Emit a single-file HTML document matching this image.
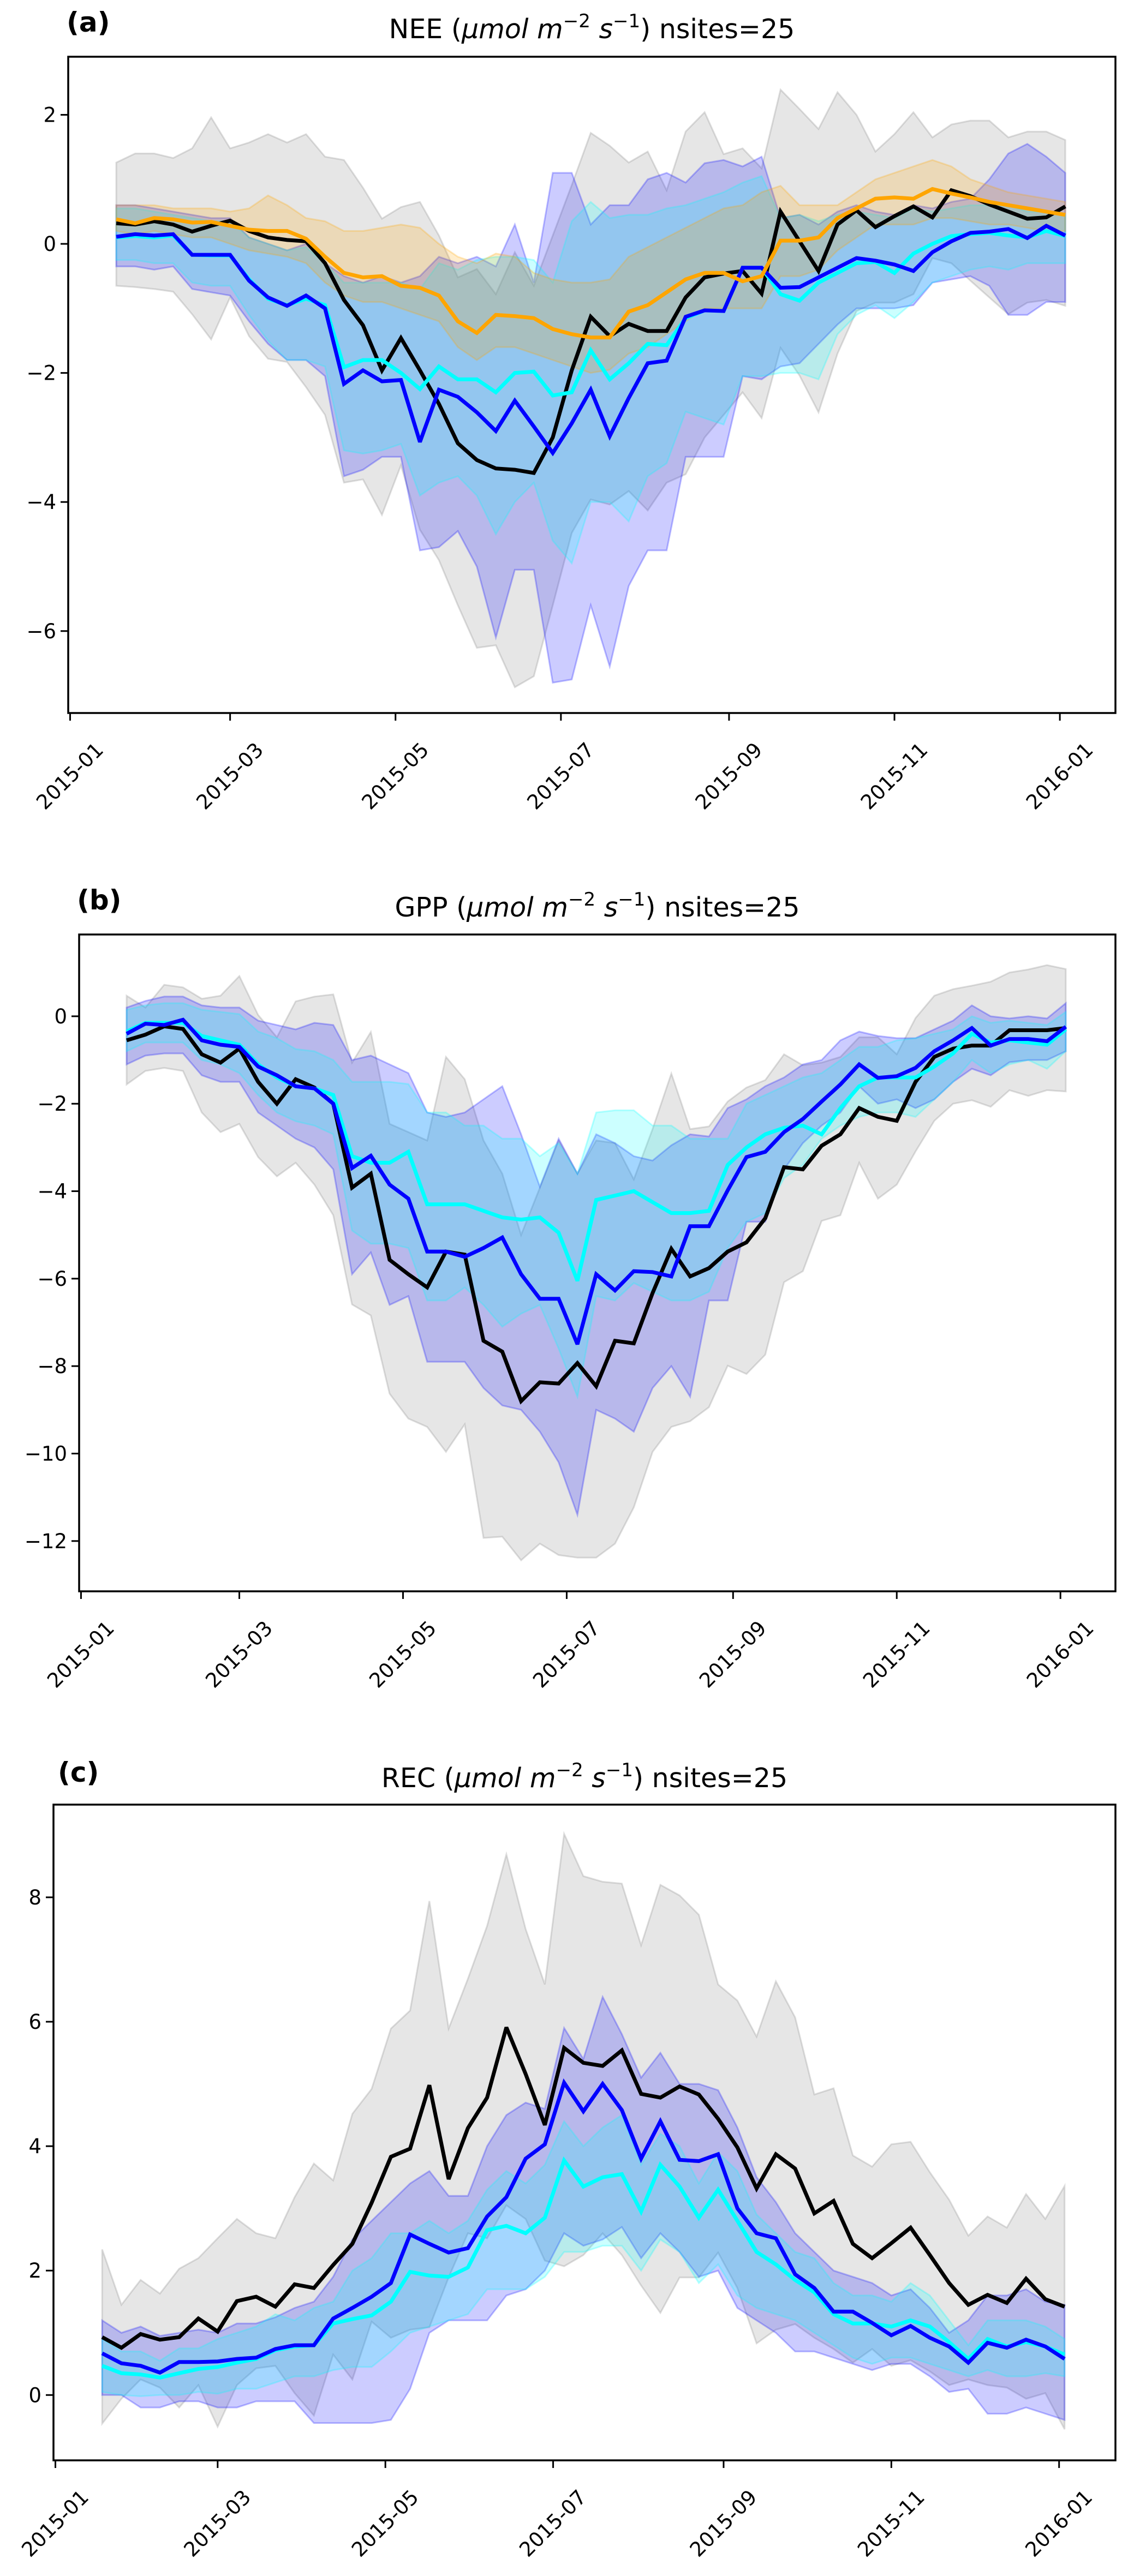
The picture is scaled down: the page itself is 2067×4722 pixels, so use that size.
<!DOCTYPE html>
<html><head><meta charset="utf-8">
<style>
html,body{margin:0;padding:0;background:#fff;}
svg{display:block;}
text{font-family:"DejaVu Sans","Liberation Sans",sans-serif;fill:#000;}
</style></head>
<body>
<svg id="fig" width="2067" height="4722" viewBox="0 0 2067 4722" xmlns="http://www.w3.org/2000/svg"></svg>
<script>
// ---- shared data ----
const xTickLabels = ["2015-01","2015-03","2015-05","2015-07","2015-09","2015-11","2016-01"];
const xTickDays = [0,59,120,181,243,304,365];
const startDay = 17, stepDays = 7;

// ---- panel a: NEE ----
const neeObs = [0.32,0.3,0.35,0.3,0.19,0.28,0.36,0.2,0.1,0.06,0.04,-0.3,-0.87,-1.26,-1.96,-1.46,-1.96,-2.48,-3.09,-3.35,-3.48,-3.5,-3.55,-3.0,-1.96,-1.13,-1.43,-1.24,-1.35,-1.35,-0.83,-0.52,-0.46,-0.42,-0.77,0.5,0.04,-0.42,0.3,0.52,0.26,0.43,0.58,0.41,0.83,0.74,0.61,0.5,0.39,0.41,0.58];
const neeObsLo = [-0.65,-0.67,-0.7,-0.74,-1.09,-1.48,-0.83,-1.43,-1.78,-1.83,-2.22,-2.65,-3.7,-3.65,-4.2,-3.43,-4.43,-4.9,-5.6,-6.26,-6.22,-6.87,-6.7,-5.6,-4.48,-3.96,-4.04,-3.83,-4.13,-3.7,-3.57,-3.0,-2.65,-2.3,-2.7,-1.61,-2.04,-2.61,-1.7,-1.04,-0.91,-0.91,-0.78,-0.22,-0.3,-0.57,-0.83,-1.09,-0.91,-0.87,-0.96];
const neeObsHi = [1.26,1.4,1.4,1.33,1.48,1.96,1.48,1.57,1.7,1.57,1.7,1.35,1.3,0.87,0.39,0.57,0.65,0.13,-0.52,-0.39,-0.78,-0.13,-0.65,0.13,0.91,1.72,1.52,1.26,1.43,0.83,1.74,2.04,1.39,1.48,1.17,2.39,2.09,1.78,2.35,2.0,1.43,1.7,2.04,1.65,1.85,1.91,1.91,1.65,1.74,1.74,1.61];
const neeBlue = [0.11,0.15,0.13,0.15,-0.17,-0.17,-0.17,-0.57,-0.83,-0.96,-0.8,-1.0,-2.17,-1.96,-2.13,-2.11,-3.07,-2.26,-2.37,-2.61,-2.9,-2.43,-2.83,-3.24,-2.78,-2.26,-2.98,-2.39,-1.85,-1.81,-1.13,-1.03,-1.04,-0.37,-0.37,-0.68,-0.67,-0.52,-0.37,-0.22,-0.26,-0.32,-0.42,-0.13,0.04,0.17,0.19,0.23,0.09,0.28,0.13];
const neeBlueLo = [-0.35,-0.35,-0.4,-0.35,-0.7,-0.75,-0.8,-1.2,-1.55,-1.8,-1.8,-2.05,-3.6,-3.5,-3.3,-3.3,-4.75,-4.7,-4.45,-5.0,-6.1,-5.05,-5.05,-6.8,-6.75,-5.6,-6.55,-5.3,-4.75,-4.75,-3.3,-3.3,-3.3,-2.05,-2.1,-1.9,-1.85,-1.55,-1.25,-1.0,-1.0,-1.0,-0.95,-0.6,-0.55,-0.5,-0.65,-1.1,-1.1,-0.9,-0.9];
const neeBlueHi = [0.6,0.6,0.55,0.5,0.45,0.4,0.4,0.1,0.0,-0.1,0.0,-0.3,-0.5,-0.6,-0.5,-0.6,-0.5,-0.2,-0.3,-0.2,-0.35,0.3,-0.6,1.1,1.1,0.3,0.6,0.6,1.0,1.1,0.95,1.25,1.3,1.2,1.35,0.4,0.45,0.3,0.5,0.6,0.5,0.45,0.6,0.55,0.65,0.7,1.0,1.4,1.55,1.35,1.1];
const neeCyan = [0.1,0.12,0.1,0.13,-0.17,-0.18,-0.18,-0.55,-0.85,-0.95,-0.85,-0.95,-1.91,-1.8,-1.8,-2.0,-2.25,-1.9,-2.1,-2.1,-2.3,-2.0,-1.98,-2.35,-2.3,-1.65,-2.1,-1.85,-1.55,-1.57,-1.15,-1.03,-1.04,-0.37,-0.37,-0.78,-0.88,-0.6,-0.45,-0.3,-0.28,-0.45,-0.15,0.0,0.12,0.15,0.17,0.13,0.1,0.2,0.12];
const neeCyanLo = [-0.25,-0.25,-0.3,-0.3,-0.6,-0.65,-0.65,-1.1,-1.5,-1.8,-1.8,-1.9,-3.2,-3.25,-3.2,-3.1,-3.9,-3.7,-3.6,-3.9,-4.5,-4.0,-3.7,-4.6,-4.95,-4.0,-4.0,-4.3,-3.6,-3.4,-2.6,-2.7,-2.8,-2.05,-2.05,-2.0,-2.0,-2.1,-1.4,-1.1,-0.95,-1.15,-0.9,-0.6,-0.5,-0.4,-0.35,-0.4,-0.3,-0.3,-0.3];
const neeCyanHi = [0.55,0.55,0.5,0.45,0.4,0.35,0.35,0.1,0,-0.1,-0.05,-0.3,-0.6,-0.6,-0.6,-0.6,-0.7,-0.3,-0.4,-0.25,-0.2,-0.2,-0.25,-0.6,0.35,0.65,0.4,0.45,0.45,0.55,0.6,0.7,0.8,0.95,1.05,0.4,0.45,0.35,0.45,0.5,0.45,0.4,0.55,0.5,0.55,0.6,0.6,0.6,0.5,0.5,0.45];
const neeOrange = [0.38,0.32,0.4,0.38,0.33,0.34,0.28,0.22,0.2,0.2,0.08,-0.2,-0.45,-0.52,-0.5,-0.65,-0.68,-0.8,-1.2,-1.38,-1.1,-1.12,-1.15,-1.32,-1.4,-1.45,-1.45,-1.05,-0.95,-0.75,-0.55,-0.45,-0.45,-0.58,-0.5,0.05,0.05,0.1,0.4,0.55,0.7,0.72,0.7,0.85,0.78,0.72,0.65,0.6,0.55,0.5,0.45];
const neeOrangeLo = [0.2,0.15,0.2,0.15,0.1,0.1,0.0,-0.1,-0.15,-0.2,-0.3,-0.6,-0.8,-0.9,-0.9,-1.0,-1.1,-1.2,-1.6,-1.8,-1.6,-1.6,-1.7,-1.8,-1.9,-2.0,-1.95,-1.7,-1.6,-1.4,-1.2,-1.0,-1.0,-1.0,-1.0,-0.5,-0.5,-0.4,-0.1,0.1,0.3,0.3,0.3,0.4,0.4,0.35,0.3,0.3,0.25,0.2,0.2];
const neeOrangeHi = [0.6,0.6,0.6,0.55,0.55,0.55,0.5,0.55,0.75,0.6,0.4,0.35,0.2,0.2,0.25,0.3,0.25,0.0,-0.2,-0.3,-0.15,-0.2,-0.45,-0.55,-0.6,-0.6,-0.55,-0.2,-0.05,0.1,0.25,0.4,0.55,0.6,0.8,0.9,0.6,0.6,0.6,0.8,1.0,1.1,1.2,1.3,1.2,1.0,0.9,0.8,0.75,0.7,0.65];
const neeYTicks = [-6,-4,-2,0,2];

// ---- panel b: GPP ----
const gppObs = [-0.55,-0.42,-0.23,-0.29,-0.87,-1.06,-0.74,-1.5,-2.0,-1.44,-1.63,-2.0,-3.92,-3.6,-5.57,-5.9,-6.2,-5.38,-5.45,-7.42,-7.67,-8.8,-8.37,-8.4,-7.93,-8.46,-7.42,-7.48,-6.33,-5.32,-5.95,-5.76,-5.38,-5.17,-4.62,-3.45,-3.5,-2.96,-2.7,-2.1,-2.3,-2.39,-1.5,-0.93,-0.74,-0.67,-0.67,-0.32,-0.32,-0.32,-0.27];
const gppObsLo = [-1.56,-1.25,-1.18,-1.25,-2.2,-2.65,-2.46,-3.22,-3.66,-3.35,-3.85,-4.55,-6.59,-6.84,-8.63,-9.2,-9.39,-9.96,-9.33,-11.93,-11.9,-12.44,-12.06,-12.32,-12.38,-12.38,-12.06,-11.23,-9.96,-9.39,-9.26,-8.94,-7.99,-8.18,-7.74,-6.08,-5.83,-4.68,-4.55,-3.35,-4.17,-3.85,-3.09,-2.39,-2.0,-1.92,-2.07,-1.69,-1.82,-1.69,-1.72];
const gppObsHi = [0.47,0.2,0.72,0.66,0.4,0.47,0.92,0.03,-0.48,0.34,0.45,0.5,-1.06,-0.36,-2.46,-2.65,-2.84,-0.93,-1.44,-2.84,-3.6,-5.0,-3.92,-2.84,-3.6,-2.84,-2.9,-3.73,-2.58,-1.31,-2.58,-2.52,-1.95,-1.63,-1.46,-0.87,-1.12,-1.06,-0.93,-0.48,-0.48,-0.87,-0.04,0.47,0.62,0.7,0.79,1.0,1.07,1.17,1.08];
const gppBlue = [-0.4,-0.17,-0.2,-0.08,-0.55,-0.65,-0.7,-1.15,-1.35,-1.6,-1.65,-2.0,-3.47,-3.19,-3.85,-4.17,-5.38,-5.38,-5.5,-5.3,-5.06,-5.9,-6.46,-6.46,-7.5,-5.9,-6.27,-5.83,-5.85,-5.95,-4.8,-4.8,-3.98,-3.22,-3.1,-2.65,-2.35,-1.95,-1.56,-1.1,-1.41,-1.37,-1.18,-0.8,-0.55,-0.27,-0.67,-0.52,-0.52,-0.57,-0.24];
const gppBlueLo = [-1.1,-0.9,-0.85,-0.85,-1.35,-1.5,-1.5,-2.2,-2.5,-2.8,-3.0,-3.5,-5.9,-5.4,-6.6,-6.4,-7.9,-7.9,-7.9,-8.5,-8.9,-9.0,-9.5,-10.2,-11.4,-9.0,-9.2,-9.5,-8.5,-8.0,-8.7,-6.5,-6.5,-4.7,-4.7,-3.5,-2.9,-2.5,-2.2,-1.6,-2.0,-1.9,-2.1,-1.9,-1.5,-1.2,-1.35,-1.05,-1.0,-1.0,-0.8];
const gppBlueHi = [0.2,0.35,0.45,0.45,0.25,0.2,0.2,-0.1,-0.2,-0.3,-0.15,-0.2,-1.0,-0.9,-1.1,-1.3,-2.2,-2.3,-2.2,-1.9,-1.6,-2.7,-3.9,-2.8,-3.6,-2.7,-2.9,-3.2,-3.3,-2.95,-2.7,-2.75,-2.1,-1.9,-1.6,-1.4,-1.1,-1.0,-0.55,-0.35,-0.45,-0.5,-0.5,-0.3,-0.1,0.25,0.0,-0.05,0.0,-0.05,0.3];
const gppCyan = [-0.35,-0.15,-0.15,-0.15,-0.45,-0.55,-0.65,-1.1,-1.4,-1.6,-1.65,-1.8,-3.2,-3.35,-3.35,-3.1,-4.3,-4.3,-4.3,-4.45,-4.6,-4.65,-4.6,-4.95,-6.05,-4.2,-4.1,-4.0,-4.25,-4.5,-4.5,-4.45,-3.4,-3.0,-2.7,-2.55,-2.5,-2.7,-2.1,-1.6,-1.4,-1.4,-1.4,-1.15,-0.85,-0.4,-0.6,-0.55,-0.6,-0.65,-0.3];
const gppCyanLo = [-0.8,-0.6,-0.6,-0.6,-1.0,-1.1,-1.3,-1.8,-2.2,-2.4,-2.5,-2.7,-4.9,-5.2,-5.2,-5.3,-6.5,-6.5,-6.2,-6.6,-7.1,-6.8,-6.6,-7.6,-8.7,-6.4,-6.5,-6.1,-6.3,-6.5,-6.5,-6.3,-5.3,-4.7,-4.5,-3.7,-3.4,-2.8,-2.5,-2.3,-2.2,-2.2,-2.3,-1.9,-1.5,-1.0,-1.3,-1.1,-1.0,-1.2,-0.8];
const gppCyanHi = [0.15,0.25,0.3,0.3,0.15,0.1,0.05,-0.35,-0.5,-0.75,-0.8,-1.0,-1.5,-1.5,-1.5,-1.55,-2.2,-2.2,-2.5,-2.5,-2.8,-2.8,-3.2,-2.9,-3.6,-2.2,-2.15,-2.15,-2.5,-2.5,-2.8,-2.8,-2.8,-2.0,-1.8,-1.6,-1.4,-1.3,-1.0,-0.7,-0.7,-0.55,-0.5,-0.4,-0.3,0.0,-0.15,-0.1,-0.15,-0.2,0.1];
const gppYTicks = [-12,-10,-8,-6,-4,-2,0];

// ---- panel c: REC ----
const recObs = [0.93,0.76,0.98,0.89,0.93,1.23,1.02,1.51,1.58,1.42,1.78,1.72,2.09,2.43,3.09,3.83,3.96,4.98,3.47,4.29,4.78,5.91,5.16,4.34,5.58,5.34,5.29,5.54,4.84,4.78,4.96,4.83,4.44,3.98,3.32,3.87,3.64,2.92,3.12,2.43,2.2,2.44,2.69,2.25,1.8,1.45,1.61,1.48,1.87,1.54,1.42];
const recObsLo = [-0.46,-0.06,0.25,0.12,-0.2,0.16,-0.51,0.16,0.43,0.47,0.03,-0.33,0.65,0.25,1.18,0.92,1.05,1.09,1.89,2.6,2.52,3.05,2.83,2.16,2.07,2.25,2.6,2.25,1.76,1.32,1.89,1.89,2.29,1.72,0.83,1.05,1.14,0.92,0.74,0.52,0.74,0.47,0.56,0.38,0.16,0.25,0.16,0.12,-0.06,0.03,-0.55];
const recObsHi = [2.34,1.45,1.85,1.63,2.03,2.2,2.52,2.83,2.6,2.52,3.18,3.72,3.45,4.52,4.92,5.89,6.18,7.94,5.89,6.69,7.54,8.69,7.49,6.6,9.02,8.34,8.25,8.22,7.23,8.2,8.03,7.72,6.6,6.34,5.76,6.65,6.07,4.83,4.93,3.85,3.67,4.03,4.07,3.58,3.14,2.56,2.87,2.69,3.23,2.83,3.36];
const recBlue = [0.67,0.51,0.47,0.36,0.53,0.53,0.54,0.58,0.6,0.74,0.8,0.8,1.23,1.4,1.58,1.8,2.58,2.43,2.29,2.36,2.87,3.18,3.8,4.03,5.02,4.56,5.0,4.58,3.8,4.4,3.78,3.76,3.87,3.0,2.6,2.52,1.94,1.72,1.34,1.34,1.16,0.96,1.11,0.92,0.78,0.52,0.84,0.76,0.89,0.78,0.58];
const recBlueLo = [0.0,0.0,-0.2,-0.2,-0.1,-0.1,-0.2,-0.2,-0.1,-0.1,-0.1,-0.45,-0.45,-0.45,-0.45,-0.4,0.1,1.0,1.2,1.2,1.2,1.6,1.7,2.0,2.6,2.4,2.5,2.7,2.2,2.6,2.3,1.9,2.0,1.4,1.2,1.0,0.7,0.7,0.6,0.5,0.4,0.5,0.5,0.3,0.05,0.1,-0.3,-0.3,-0.2,-0.3,-0.4];
const recBlueHi = [1.2,1.0,1.1,0.95,1.0,1.05,1.0,1.15,1.15,1.25,1.4,1.5,1.9,2.5,2.8,3.1,3.4,3.6,3.2,3.2,4.0,4.5,4.7,4.6,5.9,5.4,6.4,5.8,5.1,5.5,5.0,5.0,4.9,4.3,3.5,3.1,2.6,2.3,2.0,1.9,1.8,1.6,1.7,1.4,1.0,1.2,1.6,1.6,1.7,1.5,1.45];
const recCyan = [0.47,0.35,0.33,0.28,0.35,0.42,0.45,0.52,0.58,0.72,0.78,0.8,1.15,1.22,1.28,1.5,1.98,1.92,1.9,2.05,2.65,2.72,2.6,2.85,3.77,3.35,3.5,3.55,2.95,3.7,3.35,2.85,3.3,2.8,2.3,2.1,1.85,1.65,1.3,1.15,1.15,1.1,1.2,1.1,0.85,0.58,0.9,0.78,0.85,0.78,0.65];
const recCyanLo = [0.05,0.0,-0.02,0.0,0.0,0.05,0.02,0.1,0.1,0.2,0.3,0.3,0.4,0.45,0.45,0.7,1.0,1.1,1.2,1.3,1.7,1.7,1.7,1.9,2.3,2.3,2.4,2.4,2.0,2.5,2.3,1.8,2.1,1.6,1.4,1.3,1.2,1.0,0.8,0.6,0.5,0.6,0.6,0.5,0.4,0.3,0.4,0.3,0.3,0.35,0.3];
const recCyanHi = [0.9,0.7,0.7,0.55,0.75,0.75,0.9,1.0,1.1,1.3,1.2,1.4,1.5,2.0,2.2,2.6,2.6,2.8,2.6,2.8,3.3,3.6,3.4,3.7,4.4,4.0,4.3,4.5,3.7,4.2,4.0,3.4,3.9,3.6,2.9,2.6,2.3,2.2,1.8,1.6,1.6,1.5,1.8,1.6,1.2,0.8,1.2,1.2,1.2,1.1,0.9];
const recYTicks = [0,2,4,6,8];

// ---- drawing ----
const NS = "http://www.w3.org/2000/svg";
const svg = document.getElementById('fig');
function mk(tag, attrs, parent){ const e=document.createElementNS(NS,tag); for(const k in attrs) e.setAttribute(k,attrs[k]); (parent||svg).appendChild(e); return e; }

function panel(p){
  const g = mk('g',{});
  
  
  const xmin=-0.7, xmax=385.5;
  const X = d => p.L + (d - xmin)/(xmax - xmin)*(p.R - p.L);
  const Y = v => p.T + (p.ymax - v)/(p.ymax - p.ymin)*(p.B - p.T);
  const dayOf = i => startDay + i*stepDays;

  const clipId = 'clip-'+p.name;
  const cp = mk('clipPath',{id:clipId}, g);
  mk('rect',{x:p.L,y:p.T,width:p.R-p.L,height:p.B-p.T}, cp);
  const plot = mk('g',{'clip-path':'url(#'+clipId+')'}, g);

  p.bands.forEach(b=>{
    let d='M';
    b.hi.forEach((v,i)=>{ d += (i?'L':'')+X(dayOf(i)).toFixed(1)+','+Y(v).toFixed(1); });
    for(let i=b.lo.length-1;i>=0;i--){ d += 'L'+X(dayOf(i)).toFixed(1)+','+Y(b.lo[i]).toFixed(1); }
    d+='Z';
    const e = mk('path',{d:d, fill:b.color, 'fill-opacity':b.op, stroke:b.color, 'stroke-opacity':b.op*1.3, 'stroke-width':3}, plot);
    
    
  });
  p.lines.forEach(l=>{
    const pts = l.vals.map((v,i)=>X(dayOf(i)).toFixed(1)+','+Y(v).toFixed(1)).join(' ');
    const e = mk('polyline',{points:pts, fill:'none', stroke:l.color, 'stroke-width':7, 'stroke-linejoin':'miter','stroke-miterlimit':3}, plot);
    
    
  });

  const frame = mk('rect',{x:p.L,y:p.T,width:p.R-p.L,height:p.B-p.T,fill:'none',stroke:'#000','stroke-width':3.5}, g);
  
  

  p.yticks.forEach(v=>{
    const y=Y(v);
    mk('line',{x1:p.L-14,x2:p.L,y1:y,y2:y,stroke:'#000','stroke-width':3}, g);
    const t = mk('text',{x:p.L-22,y:y+13,'text-anchor':'end','font-size':37}, g);
    t.textContent = (v<0?'\u2212':'')+Math.abs(v);
    
    
  });
  xTickDays.forEach((d,i)=>{
    const x=X(d);
    mk('line',{x1:x,x2:x,y1:p.B,y2:p.B+14,stroke:'#000','stroke-width':3}, g);
    const cy = p.B+116;
    const t = mk('text',{x:x,y:cy+12,'text-anchor':'middle','font-size':37,transform:'rotate(-45 '+x+' '+cy+')'}, g);
    t.textContent = xTickLabels[i];
    
    
  });

  const lab = mk('text',{x:p.labX,y:p.labY,'font-size':50,'font-weight':'bold','font-family':'Liberation Sans, Arial, sans-serif'}, g);
  lab.textContent = p.label;
  
  

  const tt = mk('text',{x:(p.L+p.R)/2,y:p.titleY,'text-anchor':'middle','font-size':49}, g);
  
  
  tt.innerHTML = p.var+' (<tspan font-style="italic">\u03bcmol m</tspan><tspan font-size="34" dy="-20">\u22122</tspan><tspan font-style="italic" dy="20"> s</tspan><tspan font-size="34" dy="-20">\u22121</tspan><tspan dy="20">) nsites=25</tspan>';
}

const GRAY='#808080';
panel({name:'nee-panel', label:'(a)', labX:122, labY:58, var:'NEE', titleY:70,
  L:125,R:2044,T:104,B:1307, ymin:-7.27, ymax:2.90, yticks:neeYTicks,
  bands:[
    {name:'nee-obs-band',lo:neeObsLo,hi:neeObsHi,color:GRAY,op:0.2},
    {name:'nee-blue-band',lo:neeBlueLo,hi:neeBlueHi,color:'#0000ff',op:0.2},
    {name:'nee-cyan-band',lo:neeCyanLo,hi:neeCyanHi,color:'#00ffff',op:0.2},
    {name:'nee-orange-band',lo:neeOrangeLo,hi:neeOrangeHi,color:'#ffa500',op:0.2}],
  lines:[
    {name:'nee-obs-line',vals:neeObs,color:'#000'},
    {name:'nee-cyan-line',vals:neeCyan,color:'#00ffff'},
    {name:'nee-blue-line',vals:neeBlue,color:'#0000ff'},
    {name:'nee-orange-line',vals:neeOrange,color:'#ffa500'}]});

panel({name:'gpp-panel', label:'(b)', labX:141, labY:1667, var:'GPP', titleY:1680,
  L:145,R:2044,T:1713,B:2917, ymin:-13.15, ymax:1.87, yticks:gppYTicks,
  bands:[
    {name:'gpp-obs-band',lo:gppObsLo,hi:gppObsHi,color:GRAY,op:0.2},
    {name:'gpp-blue-band',lo:gppBlueLo,hi:gppBlueHi,color:'#0000ff',op:0.2},
    {name:'gpp-cyan-band',lo:gppCyanLo,hi:gppCyanHi,color:'#00ffff',op:0.2}],
  lines:[
    {name:'gpp-obs-line',vals:gppObs,color:'#000'},
    {name:'gpp-cyan-line',vals:gppCyan,color:'#00ffff'},
    {name:'gpp-blue-line',vals:gppBlue,color:'#0000ff'}]});

panel({name:'rec-panel', label:'(c)', labX:106, labY:3266, var:'REC', titleY:3276,
  L:98,R:2044,T:3308,B:4510, ymin:-1.05, ymax:9.49, yticks:recYTicks,
  bands:[
    {name:'rec-obs-band',lo:recObsLo,hi:recObsHi,color:GRAY,op:0.2},
    {name:'rec-blue-band',lo:recBlueLo,hi:recBlueHi,color:'#0000ff',op:0.2},
    {name:'rec-cyan-band',lo:recCyanLo,hi:recCyanHi,color:'#00ffff',op:0.2}],
  lines:[
    {name:'rec-obs-line',vals:recObs,color:'#000'},
    {name:'rec-cyan-line',vals:recCyan,color:'#00ffff'},
    {name:'rec-blue-line',vals:recBlue,color:'#0000ff'}]});
</script>
</body></html>
